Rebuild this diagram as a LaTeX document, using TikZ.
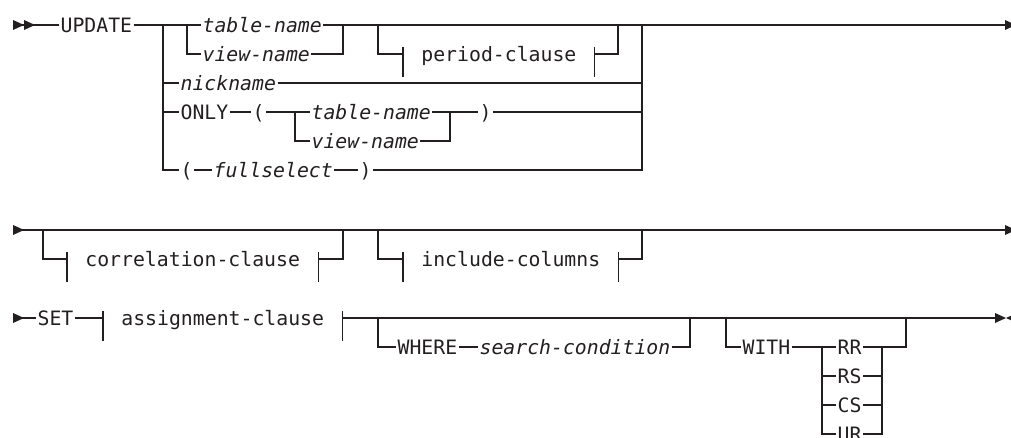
\documentclass[tikz,border=0pt]{standalone}
\usepackage{fontspec}
\setmonofont{DejaVu Sans Mono}
\usetikzlibrary{arrows.meta, positioning, calc}
\definecolor{railblack}{HTML}{231F20}

\begin{document}
\begin{tikzpicture}[
    x=0.5pt, y=-0.5pt,
    every node/.style={
        font=\ttfamily\fontsize{9.9pt}{12pt}\selectfont,
        text=railblack,
        anchor=west,
        inner xsep=0.6pt, inner ysep=0pt,
        text height=7.2pt, text depth=0pt
    },
    varname/.style={
        font=\ttfamily\itshape\fontsize{9.9pt}{12pt}\selectfont
    },
    fragment/.style={
        inner xsep=9pt
    },
    rail/.style={
        draw=railblack,
        line width=0.65pt
    },
    railtip/.pic={
        \fill[railblack] (0,-5) -- (11,0) -- (0,5) -- cycle;
    }
]
\useasboundingbox (0,0) rectangle (1011,438);

% Row 1: UPDATE target
\coordinate (start1) at (13,25);
\pic at (start1) {railtip};
\pic at (24,25) {railtip};
\node (update) at (59,25) {UPDATE};
\coordinate (j1) at (163,25);
\coordinate (j2) at (187,25);
\coordinate (j3) at (343,25);
\coordinate (j4) at (378,25);
\coordinate (j5) at (618,25);
\coordinate (j6) at (642,25);
\coordinate (end1) at (1005,25);
\pic at (end1) {railtip};

\node[varname] (tname) at (201,25) {table-name};
\node[varname] (vname) at (201,54) {view-name};
\node[fragment] (period) at (403,54) {period-clause};
\node[varname] (nick) at (179,83) {nickname};
\node (only) at (179,112) {ONLY};
\node (lpar1) at (251,112) {(};
\coordinate (j7) at (295,112);
\node[varname] (tname2) at (310,112) {table-name};
\node[varname] (vname2) at (310,141) {view-name};
\coordinate (j8) at (450,112);
\node (rpar1) at (478,112) {)};
\node (lpar2) at (179,170) {(};
\node[varname] (fsel) at (212,170) {fullselect};
\node (rpar2) at (358,170) {)};

\draw[rail] (start1) -- (update) -- (j1) -- (tname);
\draw[rail] (j2) |- (vname);
\draw[rail] (tname) -- (j3) -- (end1);
\draw[rail] (vname) -| (j3);
\draw[rail] (j4) |- (period);
\draw[rail] (period) -| (j5);
\draw[rail] ([yshift=3.5pt]period.west) -- ([yshift=-11.5pt]period.west);
\draw[rail] ([yshift=3.5pt]period.east) -- ([yshift=-11.5pt]period.east);
\draw[rail] (j1) |- (nick);
\draw[rail] (nick) -- (nick -| j6);
\draw[rail] (j1) |- (only);
\draw[rail] (only) -- (lpar1) -- (j7) -- (tname2);
\draw[rail] (j7) |- (vname2);
\draw[rail] (tname2) -- (j8) -- (rpar1);
\draw[rail] (vname2) -| (j8);
\draw[rail] (rpar1) -- (rpar1 -| j6);
\draw[rail] (j1) |- (lpar2);
\draw[rail] (lpar2) -- (fsel) -- (rpar2) -| (j6);

% Row 2: optional clauses
\coordinate (start2) at (13,230);
\pic at (start2) {railtip};
\coordinate (end2) at (1005,230);
\pic at (end2) {railtip};
\coordinate (k1) at (43,230);
\coordinate (k2) at (343,230);
\coordinate (k3) at (378,230);
\coordinate (k4) at (642,230);
\node[fragment] (corr) at (67,259) {correlation-clause};
\node[fragment] (incl) at (403,259) {include-columns};

\draw[rail] (start2) -- (end2);
\draw[rail] (k1) |- (corr);
\draw[rail] (corr) -| (k2);
\draw[rail] (k3) |- (incl);
\draw[rail] (incl) -| (k4);
\draw[rail] ([yshift=3.5pt]corr.west) -- ([yshift=-11.5pt]corr.west);
\draw[rail] ([yshift=3.5pt]corr.east) -- ([yshift=-11.5pt]corr.east);
\draw[rail] ([yshift=3.5pt]incl.west) -- ([yshift=-11.5pt]incl.west);
\draw[rail] ([yshift=3.5pt]incl.east) -- ([yshift=-11.5pt]incl.east);

% Row 3: SET, WHERE, WITH
\coordinate (start3) at (13,318);
\pic at (start3) {railtip};
\node (set) at (36,318) {SET};
\node[fragment] (assign) at (103,318) {assignment-clause};
\coordinate (m1) at (378,318);
\coordinate (m2) at (690,318);
\coordinate (m3) at (726,318);
\coordinate (m4) at (906,318);
\coordinate (end3) at (995,318);
\pic at (end3) {railtip};
\pic[rotate=180] at (1017,318) {railtip};

\node (where) at (396,347) {WHERE};
\node[varname] (cond) at (478,347) {search-condition};
\node (with) at (741,347) {WITH};
\coordinate (w1) at (822,347);
\coordinate (w2) at (882,347);
\node (rr) at (836,347) {RR};
\node (rs) at (836,376) {RS};
\node (cs) at (836,405) {CS};
\node (ur) at (836,434) {UR};

\draw[rail] (start3) -- (set) -- (assign) -- (end3);
\draw[rail] ([yshift=3.5pt]assign.west) -- ([yshift=-11.5pt]assign.west);
\draw[rail] ([yshift=3.5pt]assign.east) -- ([yshift=-11.5pt]assign.east);
\draw[rail] (m1) |- (where);
\draw[rail] (where) -- (cond) -| (m2);
\draw[rail] (m3) |- (with);
\draw[rail] (with) -- (w1) -- (rr) -- (w2) -| (m4);
\draw[rail] (w1) |- (rs);
\draw[rail] (w1) |- (cs);
\draw[rail] (w1) |- (ur);
\draw[rail] (rs) -| (w2);
\draw[rail] (cs) -| (w2);
\draw[rail] (ur) -| (w2);

\end{tikzpicture}
\end{document}
